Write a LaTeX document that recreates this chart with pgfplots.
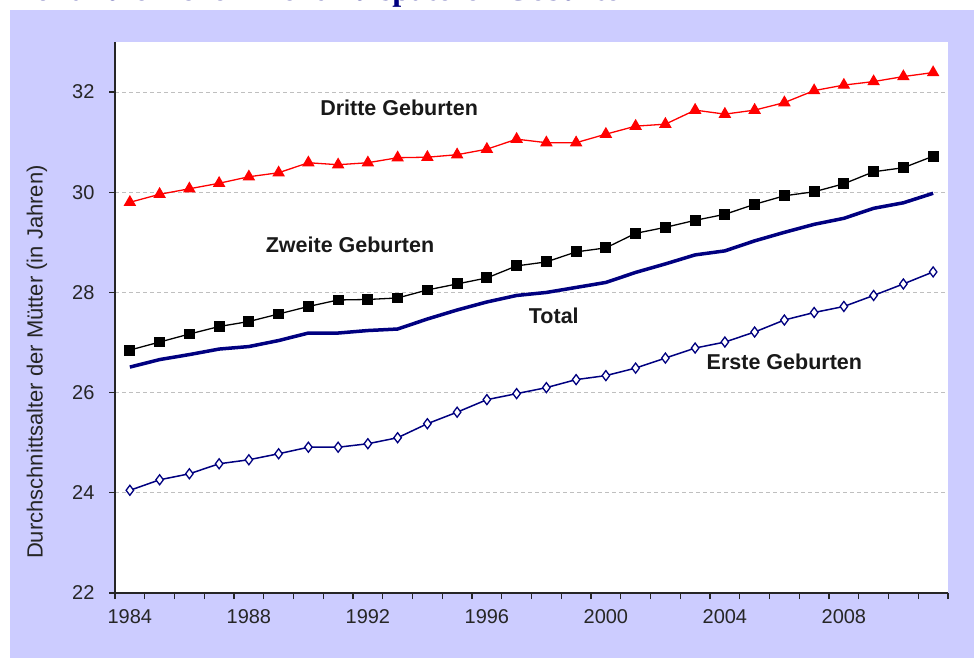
\documentclass[border=0pt]{standalone}
\usepackage{fontspec}
\setmainfont{Liberation Sans}
\newfontfamily\titlefont{Liberation Serif}
\usepackage{pgfplots}
\pgfplotsset{compat=1.18}
\usepackage{pgfplotstable}
\definecolor{panel}{HTML}{CCCCFF}
\definecolor{navyc}{HTML}{000080}
\definecolor{gridc}{HTML}{BFBFBF}
\definecolor{axisc}{HTML}{262626}
\definecolor{titlec}{HTML}{000080}

\pgfplotstableread{
year dritte zweite total erste
1984 29.80 26.85 26.51 24.05
1985 29.96 27.01 26.66 24.26
1986 30.07 27.17 26.76 24.38
1987 30.18 27.32 26.87 24.58
1988 30.31 27.42 26.92 24.66
1989 30.39 27.57 27.04 24.78
1990 30.59 27.72 27.19 24.91
1991 30.55 27.85 27.19 24.91
1992 30.59 27.86 27.24 24.98
1993 30.69 27.89 27.27 25.10
1994 30.70 28.05 27.47 25.38
1995 30.75 28.17 27.65 25.61
1996 30.86 28.29 27.81 25.86
1997 31.06 28.53 27.94 25.98
1998 30.99 28.61 28.00 26.10
1999 30.99 28.81 28.10 26.26
2000 31.16 28.89 28.20 26.34
2001 31.32 29.18 28.40 26.49
2002 31.36 29.30 28.57 26.69
2003 31.64 29.44 28.75 26.89
2004 31.56 29.56 28.83 27.01
2005 31.64 29.76 29.03 27.21
2006 31.79 29.93 29.20 27.45
2007 32.03 30.01 29.36 27.60
2008 32.14 30.17 29.48 27.72
2009 32.21 30.41 29.68 27.94
2010 32.31 30.49 29.79 28.17
2011 32.39 30.72 29.98 28.41
}\datatable

\begin{document}
\begin{tikzpicture}
\clip (0bp,0bp) rectangle (974bp,-658bp);
\path[use as bounding box] (0bp,0bp) rectangle (974bp,-658bp);
\fill[panel] (10bp,-10bp) rectangle (974bp,-658bp);
\node[anchor=base west, inner sep=0pt, text=titlec] at (10bp,-0.5bp) {\resizebox{627bp}{!}{\titlefont\bfseries Kontinuierlicher Trend zu späteren Geburten}};
\begin{axis}[
  at={(115bp,-593bp)}, anchor=south west,
  scale only axis, width=833bp, height=551bp,
  xmin=1983.5, xmax=2011.5, ymin=22, ymax=33,
  axis x line*=bottom, axis y line*=left,
  axis line style={-, axisc, line width=1.3bp},
  axis background/.style={fill=white},
  tick align=outside, major tick length=6bp,
  tick style={axisc, line width=1.3bp},
  xtick={1983.5,1984.5,...,2011.5},
  xticklabels={},
  extra x ticks={1984,1988,1992,1996,2000,2004,2008},
  extra x tick labels={1984,1988,1992,1996,2000,2004,2008},
  extra x tick style={major tick length=0pt, grid=none},
  ytick={22,24,...,32},
  ymajorgrids,
  grid style={gridc, line width=1.1bp, dash pattern=on 4bp off 3bp},
  /pgf/number format/assume math mode=true,
  ticklabel style={font=\fontsize{20bp}{24bp}\selectfont, text=black!85},
  yticklabel style={xshift=-11bp},
  xticklabel style={yshift=-13bp},
  ylabel={Durchschnittsalter der Mütter (in Jahren)},
  ylabel style={at={(axis description cs:-0.0936,0.419)}, anchor=center, font=\fontsize{22bp}{26bp}\selectfont, text=black!85},
  clip=false,
]
\addplot[red, line width=1.3bp, mark=triangle*, mark size=6bp, mark options={solid}] table[x=year, y=dritte] {\datatable};
\addplot[black, line width=1.3bp, mark=square*, mark size=4.8bp, mark options={solid}] table[x=year, y=zweite] {\datatable};
\addplot[navyc, line width=3.5bp, no marks] table[x=year, y=total] {\datatable};
\addplot[navyc, line width=1.5bp, mark=diamond*, mark size=5bp, mark options={solid, fill=white, line width=1.3bp}] table[x=year, y=erste] {\datatable};
\begin{scope}[every node/.style={font=\fontsize{21.5bp}{26bp}\selectfont\bfseries, text=black!90}]
\node at (axis cs:1993.05,31.69) {Dritte Geburten};
\node at (axis cs:1991.4,28.95) {Zweite Geburten};
\node at (axis cs:1998.25,27.54) {Total};
\node at (axis cs:2006.0,26.61) {Erste Geburten};
\end{scope}
\end{axis}
\end{tikzpicture}
\end{document}
